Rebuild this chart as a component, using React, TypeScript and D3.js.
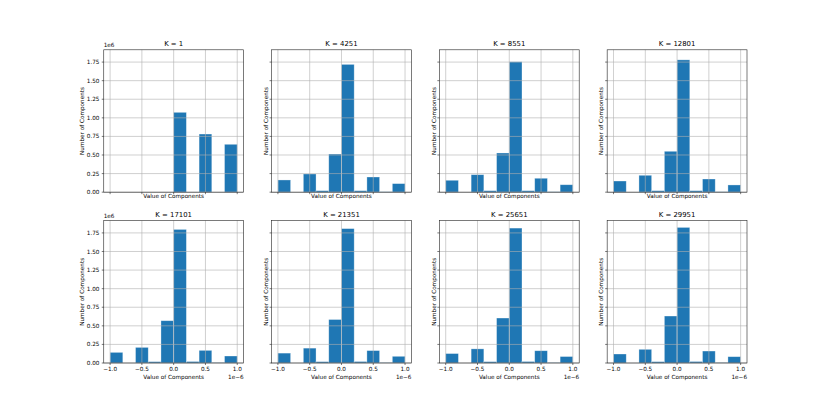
import React from "react";
import * as d3 from "d3";

const titles = ["K = 1", "K = 4251", "K = 8551", "K = 12801", "K = 17101", "K = 21351", "K = 25651", "K = 29951"];
const binEdges = [-1.0, -0.8, -0.6, -0.4, -0.2, 0.0, 0.2, 0.4, 0.6, 0.8, 1.0];
// counts in units of 1e6
const countsK1 = [0, 0, 0, 0, 0, 1.074, 0, 0.782, 0, 0.644];
const countsK4251 = [0.164, 0, 0.245, 0.02, 0.513, 1.719, 0.02, 0.204, 0.005, 0.115];
const countsK8551 = [0.16, 0, 0.235, 0.02, 0.527, 1.754, 0.02, 0.187, 0.005, 0.1];
const countsK12801 = [0.15, 0, 0.227, 0.02, 0.55, 1.78, 0.02, 0.177, 0.005, 0.097];
const countsK17101 = [0.143, 0, 0.21, 0.018, 0.569, 1.797, 0.02, 0.17, 0.005, 0.094];
const countsK21351 = [0.133, 0, 0.2, 0.018, 0.585, 1.808, 0.02, 0.167, 0.005, 0.09];
const countsK25651 = [0.127, 0, 0.19, 0.018, 0.605, 1.815, 0.02, 0.165, 0.005, 0.087];
const countsK29951 = [0.121, 0, 0.184, 0.018, 0.632, 1.824, 0.02, 0.161, 0.005, 0.085];
const allCounts = [countsK1, countsK4251, countsK8551, countsK12801, countsK17101, countsK21351, countsK25651, countsK29951];

const yTicks = [0, 0.25, 0.5, 0.75, 1.0, 1.25, 1.5, 1.75];
const xTicks = [-1.0, -0.5, 0.0, 0.5, 1.0];

const W = 830, H = 415;
const figLeft = 103.75, figRight = 747, figTop = 49.8, figBottom = 363;
const nCols = 4, nRows = 2, wspace = 0.2, hspace = 0.2;
const axW = (figRight - figLeft) / (nCols + (nCols - 1) * wspace);
const axH = (figBottom - figTop) / (nRows + (nRows - 1) * hspace);

const FONT = "DejaVu Sans, sans-serif";
const tickFs = 5.7;
const titleFs = 6.9;
const blue = "#1f77b4";
const gridC = "#b0b0b0";

const fmtX = (v: number) => (v < 0 ? "\u2212" : "") + Math.abs(v).toFixed(1);
const fmtY = (v: number) => v.toFixed(2);

const xMin = binEdges[0], xMax = binEdges[binEdges.length - 1];
const xPad = (xMax - xMin) * 0.05;
const yMaxData = d3.max(allCounts.flat()) as number;

function Panel({ idx }: { idx: number }) {
  const row = Math.floor(idx / nCols);
  const col = idx % nCols;
  const left = figLeft + col * axW * (1 + wspace);
  const top = figTop + row * axH * (1 + hspace);
  const bottom = top + axH;
  const right = left + axW;
  const x = d3.scaleLinear().domain([xMin - xPad, xMax + xPad]).range([left, right]);
  const y = d3.scaleLinear().domain([0, yMaxData * 1.05]).range([bottom, top]);
  const counts = allCounts[idx];
  const showY = col === 0;
  const showX = row === nRows - 1;
  return (
    <g>
      {counts.map((c, i) => {
        const x0 = x(binEdges[i]);
        const x1 = x(binEdges[i + 1]);
        const yt = y(c);
        return (
          <rect key={"b" + i} x={x0} y={yt} width={x1 - x0} height={bottom - yt}
            fill={blue} stroke="rgba(255,255,255,0.45)" strokeWidth={0.7} />
        );
      })}
      {/* grid */}
      {xTicks.map((t) => (
        <line key={"gx" + t} x1={x(t)} x2={x(t)} y1={top} y2={bottom} stroke={gridC} strokeWidth={0.6} />
      ))}
      {yTicks.map((t) => (
        <line key={"gy" + t} x1={left} x2={right} y1={y(t)} y2={y(t)} stroke={gridC} strokeWidth={0.6} />
      ))}
      {/* spines */}
      <rect x={left} y={top} width={axW} height={axH} fill="none" stroke="#222" strokeWidth={0.6} />
      {/* ticks */}
      {xTicks.map((t) => (
        <line key={"tx" + t} x1={x(t)} x2={x(t)} y1={bottom} y2={bottom + 2} stroke="#222" strokeWidth={0.6} />
      ))}
      {yTicks.map((t) => (
        <line key={"ty" + t} x1={left - 2} x2={left} y1={y(t)} y2={y(t)} stroke="#222" strokeWidth={0.6} />
      ))}
      {showX && xTicks.map((t) => (
        <text key={"lx" + t} x={x(t)} y={bottom + 8.2} textAnchor="middle" fontSize={tickFs} fontFamily={FONT} fill="#000">{fmtX(t)}</text>
      ))}
      {showY && yTicks.map((t) => (
        <text key={"ly" + t} x={left - 4.3} y={y(t)} dy="0.36em" textAnchor="end" fontSize={tickFs} fontFamily={FONT} fill="#000">{fmtY(t)}</text>
      ))}
      {/* title */}
      <text x={(left + right) / 2} y={top - 3.8} textAnchor="middle" fontSize={titleFs} fontFamily={FONT} fill="#000">{titles[idx]}</text>
      {/* x label */}
      <text x={(left + right) / 2} y={showX ? bottom + 15.7 : bottom + 5.8} textAnchor="middle" fontSize={tickFs} fontFamily={FONT} fill="#000">Value of Components</text>
      {/* y label */}
      <text transform={`translate(${showY ? left - 22.2 : left - 5.8},${(top + bottom) / 2}) rotate(-90)`} dy="0.36em" textAnchor="middle" fontSize={tickFs} fontFamily={FONT} fill="#000">Number of Components</text>
      {showY && (
        <text x={left} y={top - 2.6} textAnchor="start" fontSize={tickFs} fontFamily={FONT} fill="#000">1e6</text>
      )}
      {showX && (
        <text x={right} y={bottom + 15.7} textAnchor="end" fontSize={tickFs} fontFamily={FONT} fill="#000">1e{"\u2212"}6</text>
      )}
    </g>
  );
}

export default function App() {
  return (
    <svg width={W} height={H} style={{ position: "absolute", left: 0, top: 0, background: "#fff" }}>
      <rect x={0} y={0} width={W} height={H} fill="#fff" />
      {titles.map((_, i) => (
        <Panel key={i} idx={i} />
      ))}
    </svg>
  );
}
